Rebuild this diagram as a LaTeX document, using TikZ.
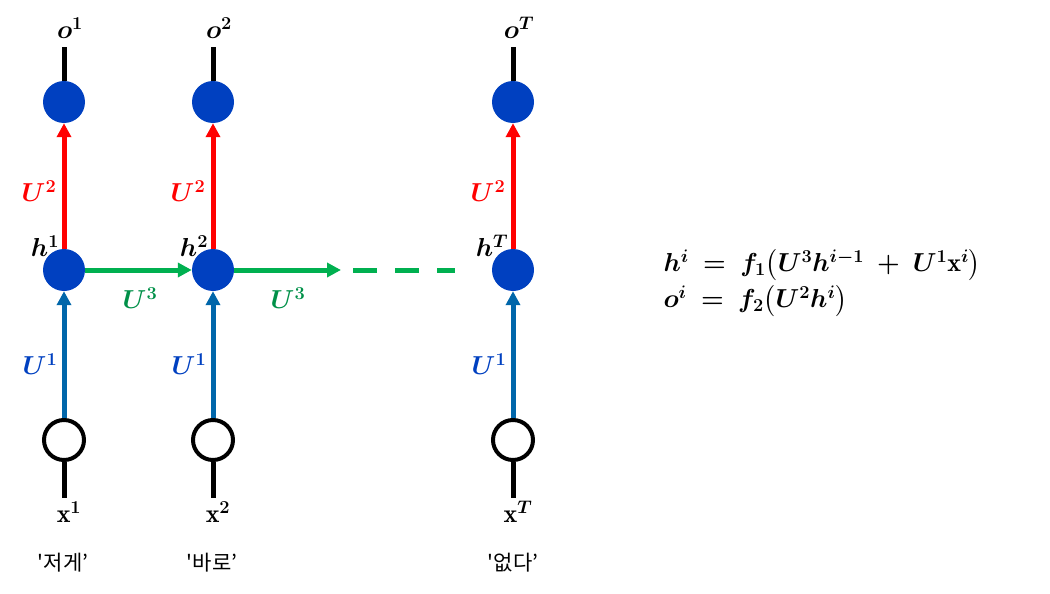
\RequirePackage{fix-cm}
\documentclass[tikz,border=0pt]{standalone}
\usepackage{amsmath,amssymb,bm}
\usepackage{fontspec}
\newfontfamily\krfont{Noto Sans CJK KR}
\usepackage{tikz}
\usetikzlibrary{arrows.meta}
\usetikzlibrary{positioning}
\definecolor{cellblue}{RGB}{0,64,192}
\definecolor{inblue}{RGB}{0,102,170}
\definecolor{recgreen}{RGB}{0,176,80}
\definecolor{labgreen}{RGB}{0,144,72}
\tikzset{
	cell/.style={circle,fill=cellblue,minimum size=42pt,inner sep=0pt},
	inputcell/.style={circle,draw=black,line width=4pt,minimum size=40pt,inner sep=0pt},
	arr/.style={line width=5pt,-{Triangle[length=14pt,width=14pt]}},
	stub/.style={line width=5pt,black},
	lab/.style={font=\fontsize{26}{30}\selectfont},
	word/.style={font=\krfont\fontsize{21}{25}\selectfont}
}

\begin{document}
\begin{tikzpicture}[x=1pt,y=-1pt]
	\useasboundingbox (0,0) rectangle (1050,594);
	
	\node[cell] (o1) at (64,102) {};
	\node[cell] (o2) at (213,102) {};
	\node[cell] (oT) at (513,102) {};
	
	\node[cell] (h1) at (64,270) {};
	\node[cell] (h2) at (213,270) {};
	\node[cell] (hT) at (513,270) {};
	
	\node[inputcell] (x1) at (64,440) {};
	\node[inputcell] (x2) at (213,440) {};
	\node[inputcell] (xT) at (513,440) {};
	
	\coordinate (t1) at (64,47);
	\coordinate (t2) at (213,47);
	\coordinate (tT) at (513,47);
	\coordinate (b1) at (64,498);
	\coordinate (b2) at (213,498);
	\coordinate (bT) at (513,498);
	\coordinate (e2) at (341,270);
	\coordinate (d1) at (353,270);
	\coordinate (d2) at (455,270);
	
	% output and input stubs
	\draw [stub] (o1.north)--(t1);
	\draw [stub] (o2.north)--(t2);
	\draw [stub] (oT.north)--(tT);
	\draw [stub] (x1.south)--(b1);
	\draw [stub] (x2.south)--(b2);
	\draw [stub] (xT.south)--(bT);
	
	% weights
	\draw [arr,red] (h1.north)--(o1.south);
	\draw [arr,red] (h2.north)--(o2.south);
	\draw [arr,red] (hT.north)--(oT.south);
	\draw [arr,inblue] (x1.north)--(h1.south);
	\draw [arr,inblue] (x2.north)--(h2.south);
	\draw [arr,inblue] (xT.north)--(hT.south);
	\draw [arr,recgreen] (h1.east)--(h2.west);
	\draw [arr,recgreen] (h2.east)--(e2);
	\draw [line width=5pt,recgreen,dash pattern=on 24pt off 18pt] (d1)--(d2);
	
	\node at (70,28) [lab] (O1) {$\bm{o^1}$};
	\node at (219,28) [lab] (O2) {$\bm{o^2}$};
	\node at (519,28) [lab] (OT) {$\bm{o^T}$};
	
	\node at (39,191) [lab,red] (UA1) {$\bm{U^2}$};
	\node at (188,191) [lab,red] (UA2) {$\bm{U^2}$};
	\node at (488,191) [lab,red] (UAT) {$\bm{U^2}$};
	
	\node at (45,246) [lab] (H1) {$\bm{h^1}$};
	\node at (194,246) [lab] (H2) {$\bm{h^2}$};
	\node at (492,246) [lab] (HT) {$\bm{h^T}$};
	
	\node at (140,298) [lab,labgreen] (UC1) {$\bm{U^3}$};
	\node at (288,298) [lab,labgreen] (UC2) {$\bm{U^3}$};
	
	\node at (40,364) [lab,cellblue] (UB1) {$\bm{U^1}$};
	\node at (189,364) [lab,cellblue] (UB2) {$\bm{U^1}$};
	\node at (489,364) [lab,cellblue] (UBT) {$\bm{U^1}$};
	
	\node at (69,512) [lab] (X1) {$\mathbf{x}^{\bm 1}$};
	\node at (218,512) [lab] (X2) {$\mathbf{x}^{\bm 2}$};
	\node at (518,512) [lab] (XT) {$\mathbf{x}^{\bm T}$};
	
	\node at (63,563) [word] (W1) {\textquotesingle 저게’};
	\node at (212,563) [word] (W2) {\textquotesingle 바로’};
	\node at (513,563) [word] (WT) {\textquotesingle 없다’};
	
	\node at (660,283) [right,align=left,font=\fontsize{26}{36}\selectfont] (Eq)
		{$\bm{h^i \;=\; f_1\bigl(U^3 h^{i-1} \;+\; U^1}\mathbf{x}^{\bm i}\bm{\bigr)}$\\
		 $\bm{o^i \;=\; f_2\bigl(U^2 h^i\bigr)}$};
\end{tikzpicture}
\end{document}
